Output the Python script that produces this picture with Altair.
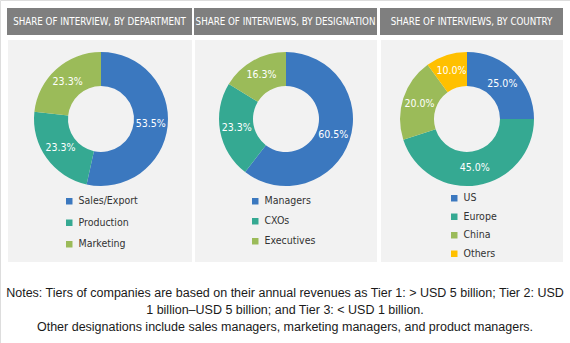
import altair as alt
import pandas as pd

# ---- data ----
dept_cats = ["Sales/Export", "Production", "Marketing"]
dept_vals = [53.5, 23.3, 23.3]
desig_cats = ["Managers", "CXOs", "Executives"]
desig_vals = [60.5, 23.3, 16.3]
country_cats = ["US", "Europe", "China", "Others"]
country_vals = [25.0, 45.0, 20.0, 10.0]

titles = ["SHARE OF INTERVIEW, BY DEPARTMENT",
          "SHARE OF INTERVIEWS, BY DESIGNATION",
          "SHARE OF INTERVIEWS, BY COUNTRY"]
notes = ["Notes: Tiers of companies are based on their annual revenues as Tier 1: > USD 5 billion; Tier 2: USD",
         "1 billion\u2013USD 5 billion; and Tier 3: < USD 1 billion.",
         "Other designations include sales managers, marketing managers, and product managers."]

BLUE, TEAL, GREEN, YELLOW = "#3b78bf", "#35a992", "#9bbb59", "#ffc000"
palette = [BLUE, TEAL, GREEN, YELLOW]

FONT = "DejaVu Sans Condensed"

# panel layout (styling, not data)
panels = [
    dict(x0=7, x1=192, cx=101, cy=119, lx=64, ly=196, rp=10.5),
    dict(x0=194, x1=377, cx=286, cy=119, lx=250, ly=196, rp=9),
    dict(x0=380, x1=563, cx=467, cy=119, lx=449, ly=193, rp=7.5),
]
series = [(dept_cats, dept_vals), (desig_cats, desig_vals), (country_cats, country_vals)]

one = pd.DataFrame({"k": [0]})

layers = []
for i, (p, (cats, vals), title) in enumerate(zip(panels, series, titles)):
    df = pd.DataFrame({"cat": cats, "val": vals, "idx": list(range(len(cats))),
                       "label": [f"{v:.1f}%" for v in vals]})
    bg = alt.Chart(one).mark_rect(color="#f2f2f2").encode(
        x=alt.value(p["x0"] + 1), x2=alt.value(p["x1"]), y=alt.value(40), y2=alt.value(262))
    hdr = alt.Chart(one).mark_rect(color="#7f7f7f").encode(
        x=alt.value(p["x0"]), x2=alt.value(p["x1"]), y=alt.value(8), y2=alt.value(35))
    htxt = alt.Chart(one).mark_text(font=FONT, fontSize=9.7, color="#ffffff",
                                    align="center", baseline="middle").encode(
        x=alt.value((p["x0"] + p["x1"]) / 2), y=alt.value(22), text=alt.value(title))
    arc = alt.Chart(df).mark_arc(outerRadius=67, innerRadius=33).encode(
        theta=alt.Theta("val:Q", stack=True),
        order=alt.Order("idx:Q"),
        color=alt.Color("cat:N",
                        scale=alt.Scale(domain=cats, range=palette[:len(cats)]),
                        legend=alt.Legend(orient="none", legendX=p["lx"], legendY=p["ly"],
                                          title=None, symbolType="square", symbolSize=42,
                                          symbolStrokeWidth=0, labelFont=FONT,
                                          labelFontSize=10.5, labelColor="#333333",
                                          rowPadding=p["rp"], padding=0, labelOffset=4)),
        x=alt.value(p["cx"]), y=alt.value(p["cy"]))
    lab = alt.Chart(df).mark_text(radius=50, font=FONT, fontSize=10.5, color="#ffffff").encode(
        theta=alt.Theta("val:Q", stack=True),
        order=alt.Order("idx:Q"),
        text=alt.Text("label:N"),
        x=alt.value(p["cx"]), y=alt.value(p["cy"]))
    layers.append(alt.layer(bg, hdr, htxt, arc, lab))

note = alt.Chart(one).mark_text(font="Liberation Sans", fontSize=12.5, color="#1a1a1a",
                                align="center", baseline="middle", lineHeight=17).encode(
    x=alt.value(285), y=alt.value(293), text=alt.value(notes))

chart = alt.layer(*layers, note).resolve_scale(
    color="independent", theta="independent"
).properties(width=570, height=343, padding=0,
             autosize=alt.AutoSizeParams(type="none")
).configure_view(stroke=None).configure(background="#ffffff")

chart.save("out.html", embed_options={"renderer": "svg", "actions": False})
